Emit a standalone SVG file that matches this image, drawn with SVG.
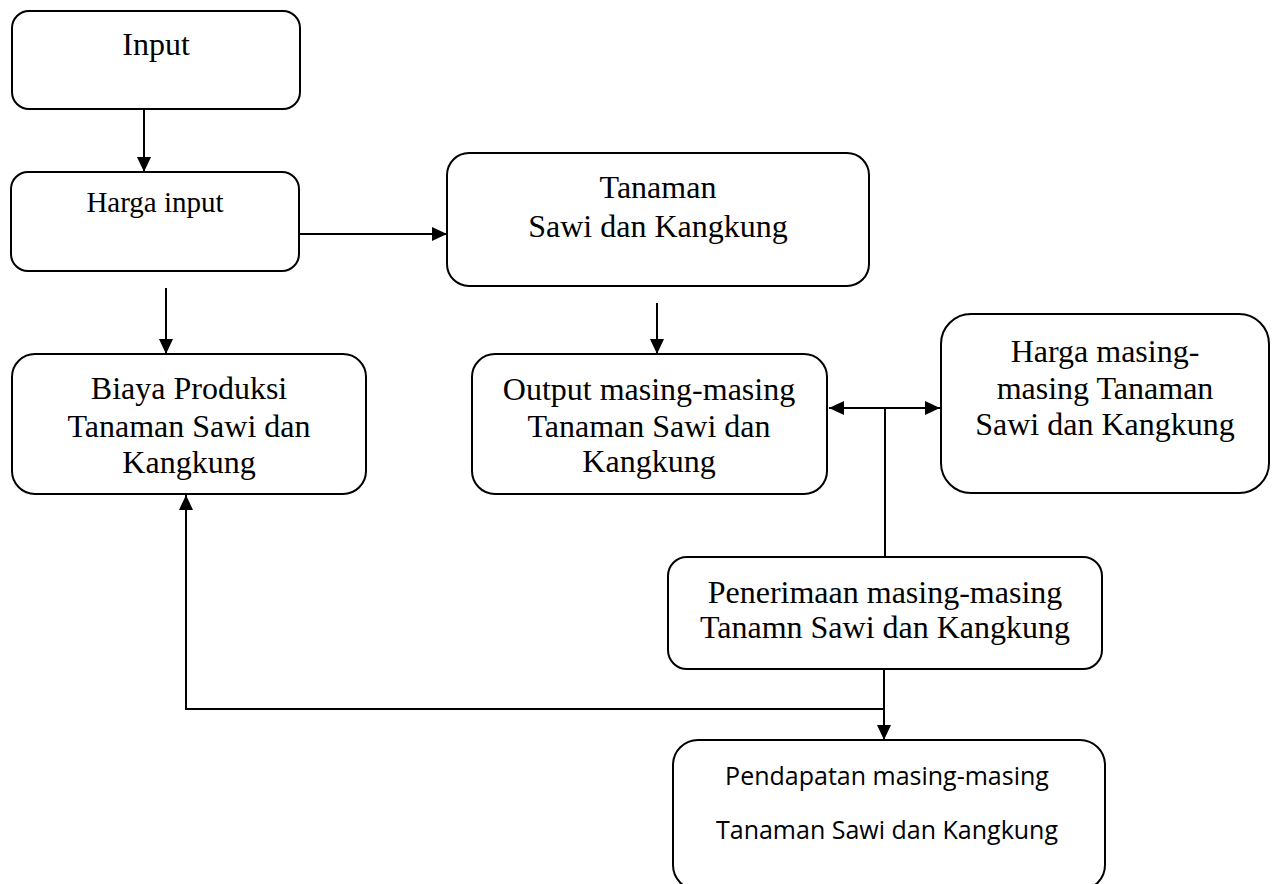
<svg xmlns="http://www.w3.org/2000/svg" width="1276" height="884" viewBox="0 0 1276 884">
<style>
.box{fill:#fff;stroke:#000;stroke-width:2}
.t{font-family:"Liberation Serif","Times New Roman",serif;font-size:32px;fill:#000;text-anchor:middle}
.s{font-family:"Open Sans","Noto Sans",sans-serif;font-size:25px;fill:#000;text-anchor:middle}
.c{fill:none;stroke:#000;stroke-width:2}
</style>
<defs>
<marker id="ah" markerUnits="userSpaceOnUse" markerWidth="15" markerHeight="14" refX="15" refY="7" orient="auto-start-reverse">
<path d="M0,0 L15,7 L0,14 z" fill="#000"/>
</marker>
</defs>
<rect width="1276" height="884" fill="#fff"/>
<g id="n-input">
<rect class="box" x="12" y="11" width="288" height="98" rx="17"/>
<text class="t" x="156" y="55">Input</text>
</g>
<g id="n-harga-input">
<rect class="box" x="11" y="172" width="288" height="99" rx="17"/>
<text class="t" x="155" y="212" style="font-size:29px">Harga input</text>
</g>
<g id="n-tanaman">
<rect class="box" x="447" y="153" width="422" height="133" rx="22"/>
<text class="t" x="658" y="198">Tanaman</text>
<text class="t" x="658" y="237">Sawi dan Kangkung</text>
</g>
<g id="n-biaya">
<rect class="box" x="12" y="354" width="354" height="140" rx="23"/>
<text class="t" x="189" y="399">Biaya Produksi</text>
<text class="t" x="189" y="437">Tanaman Sawi dan</text>
<text class="t" x="189" y="473">Kangkung</text>
</g>
<g id="n-output">
<rect class="box" x="472" y="354" width="355" height="140" rx="23"/>
<text class="t" x="649" y="400">Output masing-masing</text>
<text class="t" x="649" y="437">Tanaman Sawi dan</text>
<text class="t" x="649" y="472">Kangkung</text>
</g>
<g id="n-harga-masing">
<rect class="box" x="941" y="314" width="328" height="179" rx="30"/>
<text class="t" x="1105" y="362">Harga masing-</text>
<text class="t" x="1105" y="399">masing Tanaman</text>
<text class="t" x="1105" y="435">Sawi dan Kangkung</text>
</g>
<g id="n-penerimaan">
<rect class="box" x="668" y="557" width="434" height="112" rx="19"/>
<text class="t" x="885" y="603">Penerimaan masing-masing</text>
<text class="t" x="885" y="638">Tanamn Sawi dan Kangkung</text>
</g>
<g id="n-pendapatan">
<rect class="box" x="673" y="740" width="432" height="150" rx="25"/>
<text class="s" x="887" y="785">Pendapatan masing-masing</text>
<text class="s" x="887" y="839">Tanaman Sawi dan Kangkung</text>
</g>
<g id="connectors">
<path class="c" d="M144,109 V172" marker-end="url(#ah)"/>
<path class="c" d="M300,234 H447" marker-end="url(#ah)"/>
<path class="c" d="M166,288 V354" marker-end="url(#ah)"/>
<path class="c" d="M657,303 V354" marker-end="url(#ah)"/>
<path class="c" d="M829,408 H940" marker-start="url(#ah)" marker-end="url(#ah)"/>
<path class="c" d="M885,408 V558"/>
<path class="c" d="M884,669 V740" marker-end="url(#ah)"/>
<path class="c" d="M884,709 H186 V495" marker-end="url(#ah)"/>
</g>
</svg>
